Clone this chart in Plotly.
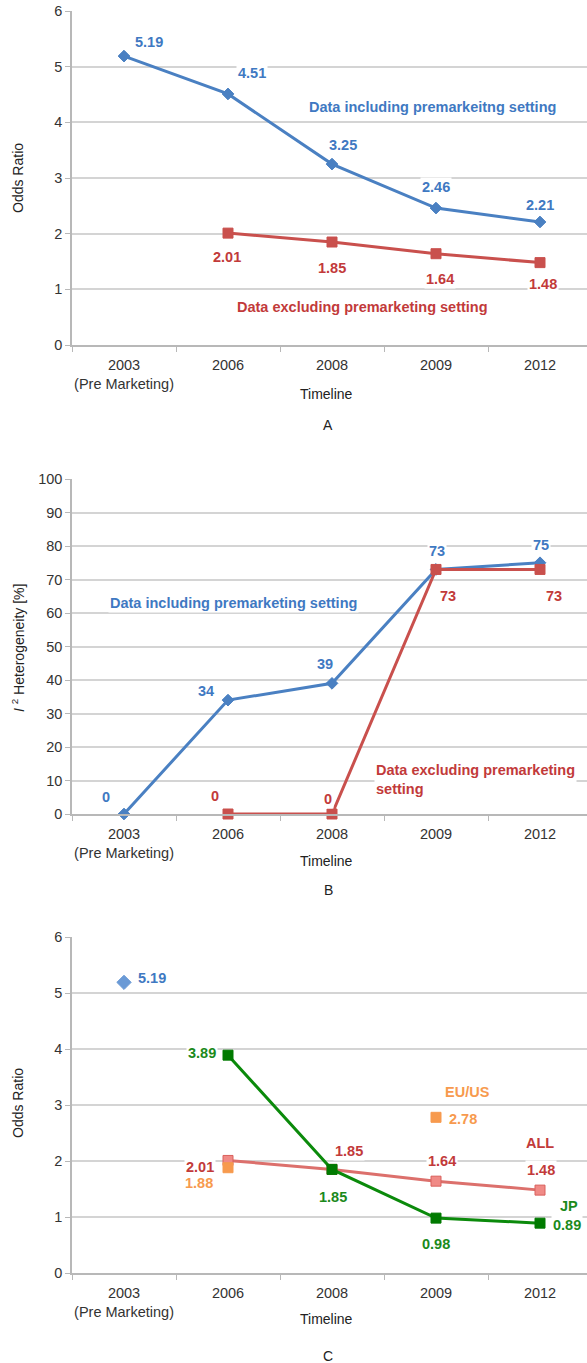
import plotly.graph_objects as go

# ---- data -------------------------------------------------------------
years = ["2003<br>(Pre Marketing)", "2006", "2008", "2009", "2012"]

# Panel A: pooled odds ratios
or_incl = [5.19, 4.51, 3.25, 2.46, 2.21]
or_excl = [None, 2.01, 1.85, 1.64, 1.48]

# Panel B: I^2 heterogeneity (%)
i2_incl = [0, 34, 39, 73, 75]
i2_excl = [None, 0, 0, 73, 73]

# Panel C: odds ratios by region
c_pre = [5.19, None, None, None, None]
c_all = [None, 2.01, 1.85, 1.64, 1.48]
c_jp = [None, 3.89, 1.85, 0.98, 0.89]
c_euus = [None, 1.88, None, 2.78, None]

# ---- styling ----------------------------------------------------------
W, H = 587, 1363
FONT = "Liberation Sans, Arial, sans-serif"
BLUE, BLUE_T = "#4a80c2", "#3f79c2"
RED, RED_T = "#c9504d", "#c23a3a"
RED_L, RED_LM = "#dc706c", "#f08a86"
GREEN, GREEN_T = "#0b8a0b", "#1b8a1b"
ORANGE = "#f79a4e"
GRID, AXIS, TICKTXT = "#d4d4d4", "#b8b8b8", "#333333"
LBL = 14.5

PLOT_L = 72  # left edge of plot area in px
STEP = 104   # px per category
x_hi = -0.5 + (W - PLOT_L) / STEP


def ydom(top_px, bottom_px):
    return [1 - bottom_px / H, 1 - top_px / H]


fig = go.Figure()


def line(y, color, marker, size, axis, mcolor=None, mline=None, mode="lines+markers", width=3):
    fig.add_trace(go.Scatter(
        x=years, y=y, mode=mode, xaxis="x" + axis, yaxis="y" + axis,
        line=dict(color=color, width=width),
        marker=dict(symbol=marker, size=size, color=mcolor or color,
                    line=dict(color=mline or mcolor or color, width=1)),
        showlegend=False, hoverinfo="skip", cliponaxis=False,
    ))


# Panel A
line(or_incl, BLUE, "diamond", 9, "")
line(or_excl, RED, "square", 10, "")
# Panel B
line(i2_incl, BLUE, "diamond", 9, "2")
line(i2_excl, RED, "square", 10, "2")
# Panel C
line(c_pre, BLUE, "diamond", 11, "3", mode="markers", mcolor="#6a9ad6")
line(c_all, RED_L, "square", 10, "3", mcolor=RED_LM, mline="#d9605c")
line(c_jp, GREEN, "square", 10, "3", mcolor="#007a00")
line(c_euus, ORANGE, "square", 10, "3", mode="markers")

annotations = []


def labels(values, axis, color, offsets):
    xr = "x" + axis
    yr = "y" + axis
    for i, (v, off) in enumerate(zip(values, offsets)):
        if v is None or off is None:
            continue
        annotations.append(dict(
            x=i, y=v, xref=xr, yref=yr, text=f"{v:g}" if isinstance(v, int) else f"{v:.2f}",
            showarrow=False, xshift=off[0], yshift=off[1], bgcolor="white", borderpad=1,
            xanchor="center", yanchor="middle",
            font=dict(family=FONT, size=LBL, color=color, weight="bold"),
        ))


labels(or_incl, "", BLUE_T, [(25, 14), (24, 21), (11, 19), (0, 21), (0, 17)])
labels(or_excl, "", RED_T, [None, (-1, -24), (0, -26), (4, -25), (3, -21)])
labels(i2_incl, "2", BLUE_T, [(-18, 17), (-22, 9), (-7, 19), (1, 18), (1, 18)])
labels(i2_excl, "2", RED_T, [None, (-13, 18), (-4, 15), (12, -27), (14, -27)])
labels(c_pre, "3", BLUE_T, [(28, 4), None, None, None, None])
labels(c_all, "3", RED_T, [None, (-28, -7), (17, 18), (6, 20), (1, 20)])
labels(c_jp, "3", GREEN_T, [None, (-26, 2), (1, -28), (0, -26), (27, -2)])
labels(c_euus, "3", ORANGE, [None, (-29, -15), None, (27, -2), None])


def note(text, x, y, axis, color, **kw):
    d = dict(x=x, y=y, xref="x" + axis, yref="y" + axis, text=text, showarrow=False,
             bgcolor="white", xanchor="center", yanchor="middle",
             font=dict(family=FONT, size=LBL, color=color, weight="bold"))
    d.update(kw)
    annotations.append(d)


note("Data including premarkeitng setting", 2.97, 4.275, "", BLUE_T)
note("Data excluding premarketing setting", 2.29, 0.68, "", RED_T)
note("Data including premarketing setting", 1.05, 63, "2", BLUE_T)
note("Data excluding premarketing<br>setting", 2.40, 10.3, "2", RED_T,
     xanchor="left", align="left")
note("ALL", 4, 1.48, "3", RED_T, yshift=47)
note("JP", 4, 0.89, "3", GREEN_T, xshift=29, yshift=17)
note("EU/US", 3, 2.78, "3", ORANGE, xshift=31, yshift=25)


def paper_text(text, xpx, ypx, size=14, angle=0):
    annotations.append(dict(
        x=xpx / W, y=1 - ypx / H, xref="paper", yref="paper", text=text,
        showarrow=False, textangle=angle, xanchor="center", yanchor="middle",
        font=dict(family=FONT, size=size, color="#222222"),
    ))


# axis titles and panel letters
paper_text("Odds Ratio", 18, 178, angle=-90)
paper_text("<i>I</i> <sup>2</sup> Heterogeneity [%]", 18, 648, angle=-90)
paper_text("Odds Ratio", 18, 1103, angle=-90)
for ypx in (394, 861, 1319):
    paper_text("Timeline", 326, ypx)
paper_text("A", 328, 425)
paper_text("B", 328, 890)
paper_text("C", 328, 1356)

xdom = [PLOT_L / W, 1]


def xaxis(anchor):
    return dict(
        domain=xdom, anchor=anchor, type="category", categoryorder="array",
        categoryarray=years, range=[-0.5, x_hi], showgrid=False, tickson="boundaries",
        ticks="outside", ticklen=5, tickcolor=AXIS, showline=True, linecolor=AXIS,
        linewidth=1.5, zeroline=False, fixedrange=True, tickangle=0, automargin=False,
        ticklabelstandoff=6,
        tickfont=dict(family=FONT, size=14.5, color=TICKTXT),
    )


def yaxis(anchor, dom, rng, dtick):
    return dict(
        domain=dom, anchor=anchor, range=rng, dtick=dtick, showgrid=True, gridcolor=GRID,
        gridwidth=1.5, ticks="outside", ticklen=5, tickcolor=AXIS, showline=True,
        linecolor=AXIS, linewidth=1.5, zeroline=False, fixedrange=True, automargin=False,
        tickfont=dict(family=FONT, size=14.5, color=TICKTXT),
    )


fig.update_layout(
    width=W, height=H, margin=dict(l=0, r=0, t=0, b=0),
    paper_bgcolor="white", plot_bgcolor="white", showlegend=False,
    xaxis=xaxis("y"), yaxis=yaxis("x", ydom(11, 345), [0, 6], 1),
    xaxis2=xaxis("y2"), yaxis2=yaxis("x2", ydom(479, 814), [0, 100], 10),
    xaxis3=xaxis("y3"), yaxis3=yaxis("x3", ydom(937, 1273), [0, 6], 1),
    annotations=annotations,
)

fig.write_html("out.html")
